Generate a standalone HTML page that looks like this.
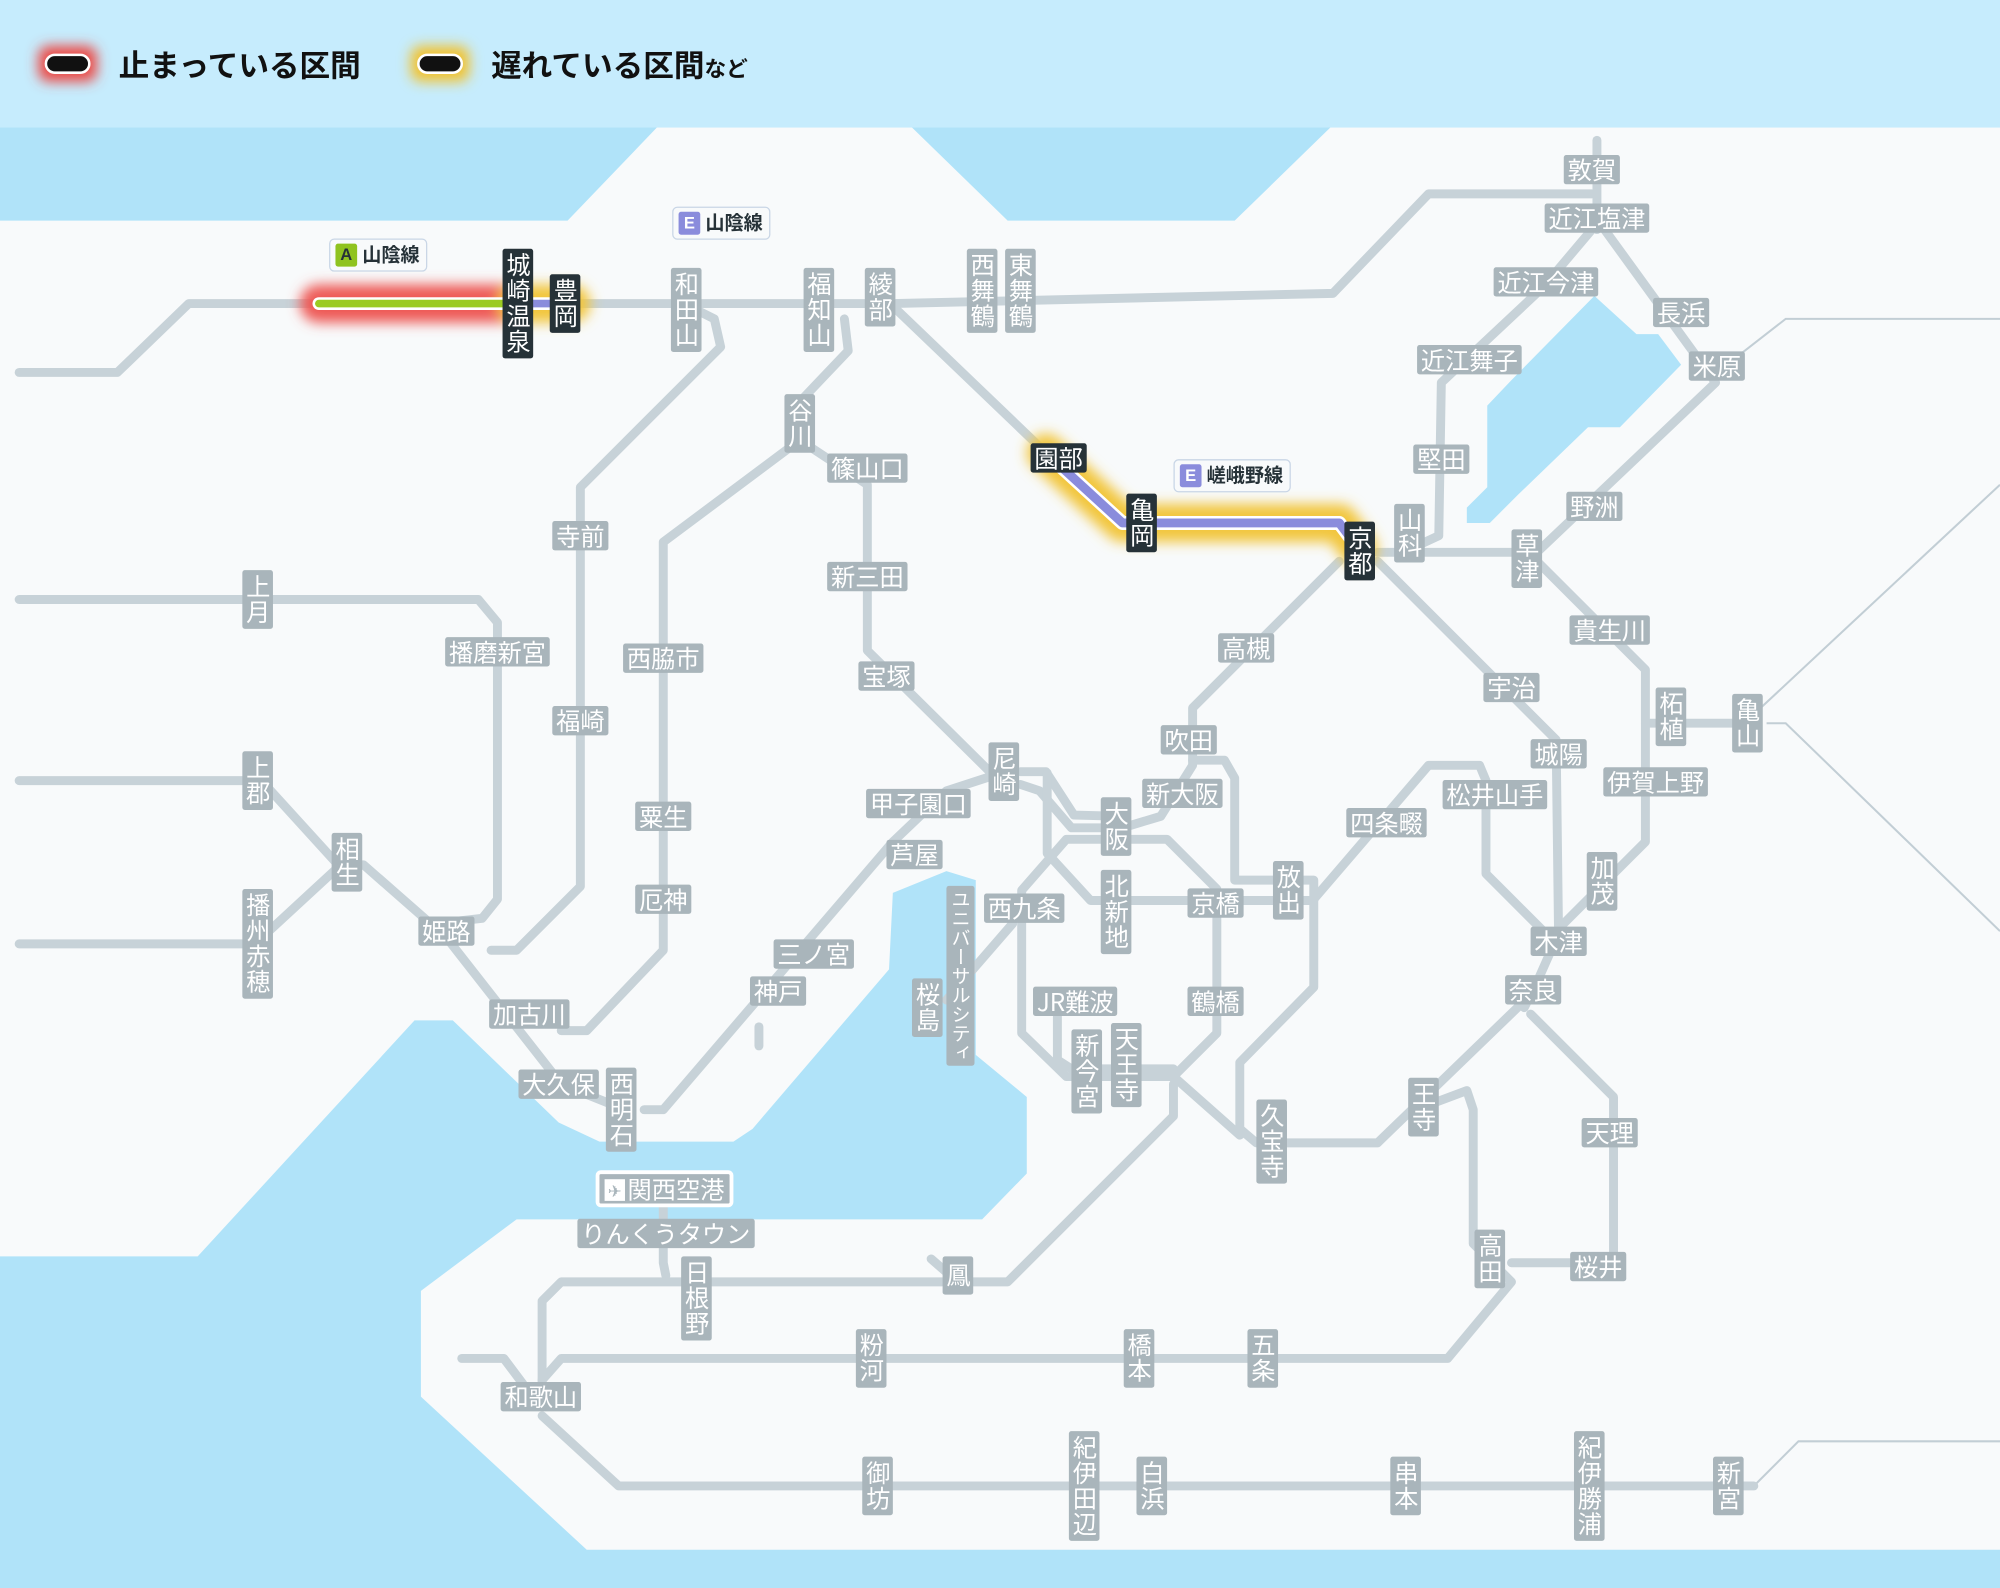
<!DOCTYPE html>
<html><head><meta charset="utf-8">
<style>
html,body{margin:0;padding:0;}
body{width:2000px;height:1588px;overflow:hidden;background:#f8fafb;}
#c{position:absolute;left:0;top:0;width:1568px;height:1245px;transform:scale(1.27551);transform-origin:0 0;font-family:"Liberation Sans","Noto Sans CJK JP",sans-serif;}
svg{position:absolute;left:0;top:0;}
.l{position:absolute;transform:translate(-50%,-50%);background:#a9b5bb;color:#fff;font-size:19px;line-height:23px;padding:0 3px;border-radius:2px;white-space:nowrap;font-family:"Noto Sans CJK JP",sans-serif;}
.v{writing-mode:vertical-rl;padding:3px 0;letter-spacing:1px;line-height:24px;}
.d{background:#263238;}
.tag{position:absolute;background:#f8fafb;border:1px solid #c9d6e6;border-radius:4px;font-size:15px;line-height:24px;padding:0 5px 0 4px;color:#263238;font-family:"Noto Sans CJK JP",sans-serif;font-weight:bold;white-space:nowrap;}
.tag b{display:inline-block;width:17px;height:18px;line-height:18px;text-align:center;color:#fff;border-radius:2px;margin-right:4px;font-family:"Liberation Sans",sans-serif;font-size:13px;vertical-align:1px;}
.leg{position:absolute;top:34px;font-size:24px;font-weight:bold;color:#111;font-family:"Noto Sans CJK JP",sans-serif;line-height:32px;white-space:nowrap;}
</style></head><body>
<div id="c">
<svg width="1568" height="1245" viewBox="0 0 1568 1245">
<defs>
<filter id="bl" x="-20%" y="-50%" width="140%" height="200%"><feGaussianBlur stdDeviation="5"/></filter>
</defs>
<rect x="0" y="0" width="1568" height="1245" fill="#f8fafb"/>
<g fill="#b0e3f9">
<polygon points="0,100 515,100 445,173 0,173"/>
<polygon points="715,100 1043,100 968,173 790,173"/>
<polygon points="1250,232 1283,262 1300,262 1318,286 1270,335 1245,335 1190,388 1168,410 1150,410 1150,398 1166,382 1166,318 1185,298"/>
<polygon points="0,985 155,985 325,800 355,800 438,880 470,895 575,895 590,885 697,760 700,700 742,683 765,690 765,827 805,860 805,920 770,956 405,956 330,1012 330,1095 460,1215 1568,1215 1568,1245 0,1245"/>
</g>
<rect x="0" y="0" width="1568" height="100" fill="#c6ecfd"/>
<g fill="none" stroke="#c2ced5" stroke-width="1.6">
<polyline points="1355,285 1400,250 1568,250"/>
<polyline points="1375,560 1568,380"/>
<polyline points="1385,567 1400,567 1568,730"/>
<polyline points="1375,1165 1410,1130 1568,1130"/>
</g>
<g fill="none" stroke="#c7d2d8" stroke-width="7" stroke-linejoin="round" stroke-linecap="round">
<polyline points="15,292 92,292 148,238 700,238 1045,230 1120,152 1248,152"/>
<polyline points="1252,110 1252,180"/>
<polyline points="540,240 560,250 565,272 455,382 455,695 405,745 385,745"/>
<polyline points="15,470 375,470 390,488 390,705 378,720 360,722"/>
<polyline points="15,612 205,612 265,678 285,678 350,735 440,850 490,870"/>
<polyline points="15,740 200,740 265,680"/>
<polyline points="662,250 665,275 627,315 627,345 520,425 520,745 460,808 440,808"/>
<polyline points="505,870 520,870 700,660 742,620 776,609"/>
<polyline points="595,805 595,820"/>
<polyline points="627,345 680,380 680,510 776,605"/>
<polyline points="700,240 820,355"/>
<polyline points="1080,433 1205,433 1345,300 1258,180"/>
<polyline points="1100,433 1128,420 1130,300 1210,225 1248,180"/>
<polyline points="1205,440 1290,525 1290,567 1370,567"/>
<polyline points="1290,567 1290,660 1225,725 1205,770 1195,790"/>
<polyline points="1080,440 1220,580 1222,740"/>
<polyline points="1030,705 1120,600 1160,600 1165,612 1165,685 1222,742"/>
<polyline points="1050,440 935,555 935,600 910,640 880,649 840,649 815,620 800,615"/>
<polyline points="800,605 820,605 842,639 880,640"/>
<polyline points="821,606 821,669 855,706 1030,706"/>
<polyline points="935,596 960,596 968,610 968,690 1030,690 1030,774 972,833 972,885 985,896 1080,896 1200,780"/>
<polygon points="836,658 915,658 954,697 954,810 920,844 836,844 801,810 801,698"/>
<polyline points="829,797 829,831 840,838 920,838"/>
<polyline points="794,724 742,784"/>
<polyline points="920,844 972,890"/>
<polyline points="1110,870 1150,855 1155,870 1155,975 1185,1005 1135,1065 440,1065 425,1082"/>
<polyline points="1200,795 1265,860 1265,990 1185,990"/>
<polyline points="920,850 920,875 790,1005 440,1005 425,1020 425,1100"/>
<polyline points="522,1000 520,990 520,935"/>
<polyline points="730,987 745,1000"/>
<polyline points="425,1110 485,1165 1375,1165"/>
<polyline points="362,1065 395,1065 410,1085"/>
</g>
<g filter="url(#bl)" fill="none" stroke-linecap="round" stroke-linejoin="round">
<polyline points="250,238 400,238" stroke="#ee5a56" stroke-width="30"/>
<polyline points="405,238 448,238" stroke="#f2c63c" stroke-width="30"/>
<polyline points="820,355 880,410 1050,410 1065,430" stroke="#f2c63c" stroke-width="30"/>
</g>
<g fill="none" stroke-linecap="round" stroke-linejoin="round">
<polyline points="250,238 400,238" stroke="#fff" stroke-width="10"/>
<polyline points="250,238 400,238" stroke="#9ccb22" stroke-width="6"/>
<polyline points="400,238 445,238" stroke="#fff" stroke-width="10"/>
<polyline points="400,238 445,238" stroke="#8a8cdc" stroke-width="6"/>
<polyline points="820,355 880,410 1050,410 1065,430" stroke="#fff" stroke-width="11"/>
<polyline points="820,355 880,410 1050,410 1065,430" stroke="#8a8cdc" stroke-width="7"/>
</g>
<g filter="url(#bl)"><rect x="30" y="36" width="46" height="28" rx="8" fill="#ec4a45"/><rect x="322" y="36" width="46" height="28" rx="8" fill="#f2c22e"/></g>
<rect x="36" y="43" width="34" height="14" rx="7" fill="#111" stroke="#fff" stroke-width="2"/>
<rect x="328" y="43" width="34" height="14" rx="7" fill="#111" stroke="#fff" stroke-width="2"/>
</svg>

<div class="leg" style="left:93px">止まっている区間</div>
<div class="leg" style="left:385px">遅れている区間<span style="font-size:17px">など</span></div>

<div class="tag" style="left:258px;top:187px"><b style="background:#8fc31f;color:#263238">A</b>山陰線</div>
<div class="tag" style="left:527px;top:162px"><b style="background:#8a8cdc">E</b>山陰線</div>
<div class="tag" style="left:920px;top:360px"><b style="background:#8a8cdc">E</b>嵯峨野線</div>

<div class="l" style="left:1248px;top:133px">敦賀</div>
<div class="l" style="left:1252px;top:171px">近江塩津</div>
<div class="l" style="left:1212px;top:221px">近江今津</div>
<div class="l" style="left:1318px;top:245px">長浜</div>
<div class="l" style="left:1152px;top:282px">近江舞子</div>
<div class="l" style="left:1346px;top:287px">米原</div>
<div class="l" style="left:1130px;top:360px">堅田</div>
<div class="l" style="left:1250px;top:397px">野洲</div>
<div class="l v" style="left:1105px;top:418px">山科</div>
<div class="l v" style="left:1197px;top:438px">草津</div>
<div class="l" style="left:1262px;top:494px">貴生川</div>
<div class="l" style="left:1185px;top:539px">宇治</div>
<div class="l v" style="left:1310px;top:562px">柘植</div>
<div class="l v" style="left:1370px;top:567px">亀山</div>
<div class="l" style="left:1222px;top:591px">城陽</div>
<div class="l" style="left:1298px;top:613px">伊賀上野</div>
<div class="l" style="left:1172px;top:623px">松井山手</div>
<div class="l" style="left:1087px;top:645px">四条畷</div>
<div class="l v" style="left:1256px;top:691px">加茂</div>
<div class="l" style="left:1222px;top:738px">木津</div>
<div class="l" style="left:1202px;top:776px">奈良</div>
<div class="l" style="left:1262px;top:888px">天理</div>
<div class="l v" style="left:1116px;top:868px">王寺</div>
<div class="l v" style="left:1168px;top:987px">高田</div>
<div class="l" style="left:1253px;top:993px">桜井</div>
<div class="l v" style="left:990px;top:1065px">五条</div>
<div class="l v" style="left:893px;top:1065px">橋本</div>
<div class="l v" style="left:683px;top:1065px">粉河</div>
<div class="l" style="left:424px;top:1095px">和歌山</div>
<div class="l v" style="left:688px;top:1165px">御坊</div>
<div class="l v" style="left:850px;top:1165px">紀伊田辺</div>
<div class="l v" style="left:903px;top:1165px">白浜</div>
<div class="l v" style="left:1102px;top:1165px">串本</div>
<div class="l v" style="left:1246px;top:1165px">紀伊勝浦</div>
<div class="l v" style="left:1355px;top:1165px">新宮</div>
<div class="l v" style="left:751px;top:1000px;padding:5px 0">鳳</div>
<div class="l v" style="left:546px;top:1018px">日根野</div>
<div class="l" style="left:522px;top:967px">りんくうタウン</div>
<div class="l" style="left:521px;top:932px;border:3px solid #fff;border-radius:4px;padding:0 4px"><span style="display:inline-block;width:16px;height:17px;background:#fff;color:#a9b5bb;font-size:13px;line-height:17px;text-align:center;vertical-align:1px;margin-right:2px">✈</span>関西空港</div>
<div class="l" style="left:438px;top:850px">大久保</div>
<div class="l v" style="left:487px;top:870px">西明石</div>
<div class="l" style="left:415px;top:795px">加古川</div>
<div class="l" style="left:610px;top:777px">神戸</div>
<div class="l" style="left:638px;top:748px">三ノ宮</div>
<div class="l" style="left:350px;top:730px">姫路</div>
<div class="l v" style="left:272px;top:676px">相生</div>
<div class="l v" style="left:202px;top:612px">上郡</div>
<div class="l v" style="left:202px;top:740px">播州赤穂</div>
<div class="l v" style="left:202px;top:470px">上月</div>
<div class="l" style="left:390px;top:511px">播磨新宮</div>
<div class="l" style="left:455px;top:420px">寺前</div>
<div class="l" style="left:455px;top:565px">福崎</div>
<div class="l" style="left:520px;top:516px">西脇市</div>
<div class="l" style="left:520px;top:640px">粟生</div>
<div class="l" style="left:520px;top:705px">厄神</div>
<div class="l v" style="left:627px;top:332px">谷川</div>
<div class="l" style="left:680px;top:367px">篠山口</div>
<div class="l" style="left:680px;top:452px">新三田</div>
<div class="l" style="left:695px;top:530px">宝塚</div>
<div class="l v" style="left:787px;top:605px">尼崎</div>
<div class="l" style="left:720px;top:630px">甲子園口</div>
<div class="l" style="left:717px;top:670px">芦屋</div>
<div class="l v" style="left:753px;top:765px;font-size:15px;letter-spacing:0;line-height:22px">ユニバーサルシティ</div>
<div class="l v" style="left:727px;top:790px">桜島</div>
<div class="l" style="left:803px;top:712px">西九条</div>
<div class="l v" style="left:875px;top:648px">大阪</div>
<div class="l v" style="left:875px;top:715px">北新地</div>
<div class="l" style="left:927px;top:622px">新大阪</div>
<div class="l" style="left:932px;top:580px">吹田</div>
<div class="l" style="left:977px;top:508px">高槻</div>
<div class="l" style="left:953px;top:708px">京橋</div>
<div class="l v" style="left:1010px;top:698px">放出</div>
<div class="l" style="left:953px;top:785px">鶴橋</div>
<div class="l" style="left:843px;top:785px">JR難波</div>
<div class="l v" style="left:852px;top:840px">新今宮</div>
<div class="l v" style="left:883px;top:835px">天王寺</div>
<div class="l v" style="left:997px;top:895px">久宝寺</div>
<div class="l v" style="left:538px;top:243px">和田山</div>
<div class="l v" style="left:642px;top:243px">福知山</div>
<div class="l v" style="left:690px;top:233px">綾部</div>
<div class="l v" style="left:770px;top:228px">西舞鶴</div>
<div class="l v" style="left:800px;top:228px">東舞鶴</div>
<div class="l v d" style="left:406px;top:238px">城崎温泉</div>
<div class="l v d" style="left:443px;top:238px">豊岡</div>
<div class="l d" style="left:830px;top:359px">園部</div>
<div class="l v d" style="left:895px;top:410px">亀岡</div>
<div class="l v d" style="left:1066px;top:432px">京都</div>
</div>
</body></html>
